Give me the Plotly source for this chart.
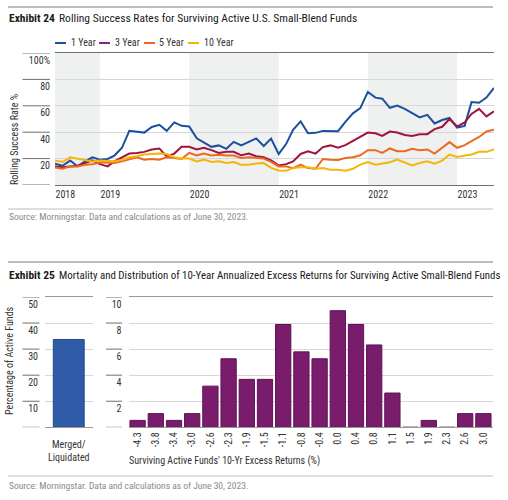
import plotly.graph_objects as go
import pandas as pd

W, H = 508, 500


def px(x):
    return x / W


def py(y):
    return 1 - y / H


FONT = "'Roboto Condensed', 'Liberation Sans Narrow', 'DejaVu Sans Condensed', 'Arial Narrow', sans-serif"

# ---------------- Exhibit 24 data ----------------
months = pd.date_range("2018-07-01", "2023-06-01", freq="MS").strftime("%Y-%m-%d").tolist()

one_year = [16.2, 14.6, 18.5, 14.1, 17.9, 21.0, 19.2, 19.7, 22.3, 28.2,
            41.0, 40.5, 39.7, 44.0, 45.6, 41.0, 47.4, 44.8, 44.3, 35.4,
            32.5, 28.9, 30.0, 27.4, 32.7, 30.0, 32.7, 35.3, 29.5, 35.1,
            23.5, 31.2, 41.8, 48.2, 39.2, 39.5, 41.0, 40.8, 40.8, 47.9,
            54.3, 58.2, 70.5, 66.2, 65.4, 58.5, 60.2, 57.7, 54.3, 51.2,
            53.1, 46.6, 49.2, 50.8, 43.5, 44.8, 62.8, 62.3, 66.2, 73.5]
three_year = [14.1, 13.5, 14.1, 14.6, 16.6, 18.7, 15.8, 14.1, 17.9, 21.0,
              23.8, 24.3, 25.1, 26.9, 27.7, 21.5, 23.8, 28.9, 28.9, 26.9,
              28.2, 26.4, 24.3, 25.1, 25.1, 22.5, 23.8, 21.8, 21.0, 18.7,
              14.8, 15.8, 17.9, 23.5, 25.6, 23.8, 28.7, 30.0, 28.2, 30.2,
              33.3, 36.9, 39.7, 39.2, 37.2, 40.5, 39.7, 37.9, 37.2, 38.5,
              38.5, 42.3, 44.1, 50.0, 44.3, 47.4, 53.8, 57.7, 52.0, 55.8]
five_year = [13.3, 12.3, 14.1, 14.1, 15.4, 15.8, 17.2, 16.6, 16.6, 17.9,
             19.7, 21.0, 19.2, 19.7, 19.2, 21.0, 20.5, 19.7, 24.3, 22.3,
             23.8, 22.3, 23.0, 22.3, 22.3, 20.5, 21.0, 20.5, 20.0, 17.5,
             14.1, 14.1, 12.8, 15.4, 12.8, 12.3, 19.7, 19.2, 18.9, 20.5,
             21.0, 22.5, 26.4, 26.4, 24.3, 27.7, 25.6, 25.6, 27.4, 26.4,
             26.9, 23.8, 28.2, 32.5, 28.2, 30.2, 33.3, 36.4, 40.5, 41.8]
ten_year = [18.5, 17.4, 21.0, 20.0, 19.2, 17.9, 18.5, 17.9, 17.9, 19.2,
            21.0, 21.8, 23.1, 23.5, 23.8, 23.5, 21.0, 20.0, 20.0, 17.9,
            19.2, 17.4, 17.9, 16.6, 17.4, 15.4, 15.4, 16.2, 16.6, 13.0,
            11.0, 10.8, 12.8, 13.5, 13.5, 12.3, 12.8, 11.5, 11.5, 10.8,
            12.3, 15.4, 17.4, 15.4, 16.2, 17.2, 19.2, 17.2, 14.8, 16.6,
            17.9, 16.2, 18.5, 23.1, 21.2, 22.3, 23.1, 25.1, 25.1, 26.9]

series_names = ["1 Year", "3 Year", "5 Year", "10 Year"]
series_values = [one_year, three_year, five_year, ten_year]
series_colors = ["#1b4f9f", "#a0133e", "#ec6a20", "#f4b707"]
legend_colors = ["#1b4f9f", "#7e2a80", "#ec6a20", "#f4b707"]

year_tick_dates = ["2018-07-01", "2019-01-01", "2020-01-01", "2021-01-01", "2022-01-01", "2023-01-01"]
year_tick_labels = ["2018", "2019", "2020", "2021", "2022", "2023"]
shaded_periods = [("2018-07-01", "2019-01-01"), ("2020-01-01", "2021-01-01"), ("2022-01-01", "2023-01-01")]

rate_ticks = [0, 20, 40, 60, 80, 100]
rate_tick_labels = ["", "20", "40", "60", "80", "100%"]

# ---------------- Exhibit 25 data ----------------
mortality_cat = ["Merged/<br>Liquidated"]
mortality_val = [33.7]

excess_cats = ["-4.3", "-3.8", "-3.4", "-3.0", "-2.6", "-2.3", "-1.9", "-1.5", "-1.1", "-0.8",
               "-0.4", "0.0", "0.4", "0.8", "1.1", "1.5", "1.9", "2.3", "2.6", "3.0"]
excess_vals = [0.53, 1.05, 0.53, 1.05, 3.16, 5.26, 3.68, 3.68, 7.89, 5.79,
               5.26, 8.95, 7.89, 6.32, 2.63, 0.0, 0.53, 0.0, 1.05, 1.05]

mort_ticks = [0, 10, 20, 30, 40, 50]
mort_tick_labels = ["", "10", "20", "30", "40", "50"]
dist_ticks = [0, 2, 4, 6, 8, 10]
dist_tick_labels = ["", "2", "4", "6", "8", "10"]

fig = go.Figure()

for name, vals, col in zip(series_names, series_values, series_colors):
    fig.add_trace(go.Scatter(x=months, y=vals, mode="lines", name=name,
                             line=dict(color=col, width=2), xaxis="x", yaxis="y",
                             showlegend=False, hoverinfo="x+y+name"))

fig.add_trace(go.Bar(x=mortality_cat, y=mortality_val, xaxis="x2", yaxis="y2",
                     marker=dict(color="#2f5ba7", line=dict(color="#244a8c", width=1)),
                     width=0.65, showlegend=False, name="Merged/Liquidated"))
fig.add_trace(go.Bar(x=excess_cats, y=excess_vals, xaxis="x3", yaxis="y3",
                     marker=dict(color="#7a1c6c", line=dict(color="#5e1253", width=1)),
                     width=0.84, showlegend=False, name="Surviving funds"))

axis_font = dict(family=FONT, size=10, color="#333333")
grid_col = "#d7d7d7"

fig.update_layout(
    width=W, height=H,
    margin=dict(l=0, r=0, t=0, b=0),
    paper_bgcolor="white", plot_bgcolor="rgba(0,0,0,0)",
    font=dict(family=FONT, size=10, color="#333333"),
    showlegend=False,
    xaxis=dict(domain=[px(55), px(494)], type="date",
               range=["2018-07-01", "2023-06-01"],
               tickvals=year_tick_dates, ticktext=year_tick_labels,
               ticklabelposition="outside right", tickfont=axis_font,
               showgrid=False, zeroline=False, ticks="",
               showline=True, linecolor="#6f6f6f", linewidth=1, mirror=True,
               anchor="y", fixedrange=True),
    yaxis=dict(domain=[py(185), py(53)], range=[0, 100],
               tickvals=rate_ticks, ticktext=rate_tick_labels,
               ticklabelposition="outside bottom", tickfont=axis_font,
               showgrid=True, gridcolor=grid_col, zeroline=False, ticks="",
               ticklabelstandoff=4, anchor="x", fixedrange=True),
    xaxis2=dict(domain=[px(45), px(92.5)], type="category",
                tickfont=axis_font, showgrid=False, zeroline=False, ticks="",
                showline=True, linecolor="#9a9a9a", linewidth=1, mirror=True,
                ticklabelstandoff=8, anchor="y2", fixedrange=True),
    yaxis2=dict(domain=[py(427.3), py(297)], range=[0, 50],
                tickvals=mort_ticks, ticktext=mort_tick_labels,
                ticklabelposition="outside bottom", tickfont=axis_font,
                showgrid=True, gridcolor=grid_col, zeroline=False, ticks="",
                ticklabelstandoff=6, anchor="x2", fixedrange=True),
    xaxis3=dict(domain=[px(128.5), px(492.5)], type="category",
                tickfont=dict(family=FONT, size=10, color="#333333"), tickangle=-90,
                showgrid=False, zeroline=False, ticks="",
                showline=True, linecolor="#9a9a9a", linewidth=1, mirror=True,
                anchor="y3", fixedrange=True),
    yaxis3=dict(domain=[py(427.3), py(297)], range=[0, 10],
                tickvals=dist_ticks, ticktext=dist_tick_labels,
                ticklabelposition="outside bottom", tickfont=axis_font,
                showgrid=True, gridcolor=grid_col, zeroline=False, ticks="",
                ticklabelstandoff=6, anchor="x3", fixedrange=True),
)

shapes = []
# shaded year bands
for a, b in shaded_periods:
    shapes.append(dict(type="rect", xref="x", yref="y domain", x0=a, x1=b, y0=0, y1=1,
                       fillcolor="#eff0f0", line=dict(width=0), layer="below"))
# short tick rules beside labels
for v in rate_ticks:
    shapes.append(dict(type="line", xref="paper", yref="y", x0=px(22.5), x1=px(50), y0=v, y1=v,
                       line=dict(color="#6f6f6f", width=1)))
for v in mort_ticks:
    shapes.append(dict(type="line", xref="paper", yref="y2", x0=px(22.5), x1=px(39.5), y0=v, y1=v,
                       line=dict(color="#6f6f6f", width=1)))
for v in dist_ticks:
    shapes.append(dict(type="line", xref="paper", yref="y3", x0=px(106), x1=px(122), y0=v, y1=v,
                       line=dict(color="#6f6f6f", width=1)))
# section rules
for yy, col in [(7, "#7a7a7a"), (209, "#bdbdbd"), (262, "#7a7a7a"), (476, "#bdbdbd")]:
    shapes.append(dict(type="line", xref="paper", yref="paper", x0=px(8), x1=px(493),
                       y0=py(yy), y1=py(yy), line=dict(color=col, width=1.2)))
# legend swatches
legend_swatch_x = [55, 99, 144, 188]
legend_text_x = [68.5, 112.5, 156.5, 201.5]
for sx, col in zip(legend_swatch_x, legend_colors):
    shapes.append(dict(type="line", xref="paper", yref="paper", x0=px(sx), x1=px(sx + 11),
                       y0=py(43), y1=py(43), line=dict(color=col, width=2)))
fig.update_layout(shapes=shapes)

ann = []


def text(x, y, s, size=10, color="#333333", xanchor="left", yanchor="middle", angle=0):
    ann.append(dict(x=px(x), y=py(y), xref="paper", yref="paper", text=s, showarrow=False,
                    xanchor=xanchor, yanchor=yanchor, textangle=angle,
                    font=dict(family=FONT, size=size, color=color)))


text(7, 17.5, "<b>Exhibit 24</b>", size=11.5, color="#1a1a1a")
text(57, 17.5, "Rolling Success Rates for Surviving Active U.S. Small-Blend Funds", size=11.5, color="#1a1a1a")
for tx, name in zip(legend_text_x, series_names):
    text(tx, 43, name, size=10)
text(14, 140, "Rolling Success Rate %", size=10, xanchor="center", yanchor="middle", angle=-90)
text(7, 217, "Source: Morningstar. Data and calculations as of June 30, 2023.", size=9.5, color="#8a8a8a")

text(7, 275, "<b>Exhibit 25</b>", size=11.5, color="#1a1a1a")
text(57, 275, "Mortality and Distribution of 10-Year Annualized Excess Returns for Surviving Active Small-Blend Funds",
     size=10.9, color="#1a1a1a")
text(9, 361, "Percentage of Active Funds", size=10, xanchor="center", yanchor="middle", angle=-90)
text(126.5, 461, "Surviving Active Funds' 10-Yr Excess Returns (%)", size=10)
text(7, 485, "Source: Morningstar. Data and calculations as of June 30, 2023.", size=9.5, color="#8a8a8a")

fig.update_layout(annotations=ann)

fig.write_html("out.html")
